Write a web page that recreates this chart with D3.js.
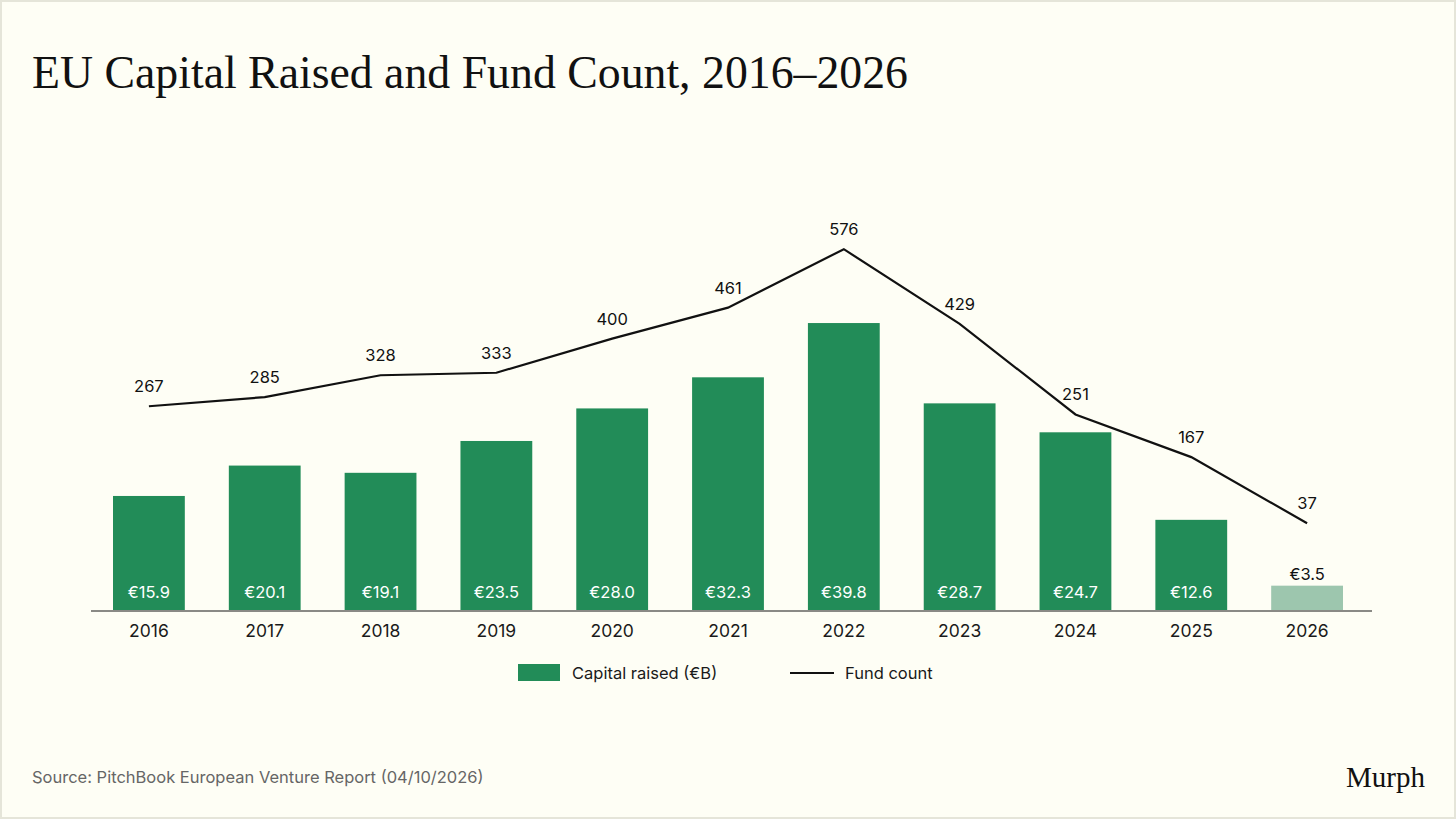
<!DOCTYPE html>
<html>
<head>
<meta charset="utf-8">
<script src="https://cdn.jsdelivr.net/npm/d3@7"></script>
<style>
  html, body { margin: 0; padding: 0; background: #fefef5; }
  svg { display: block; }
</style>
</head>
<body>
<div id="chart"></div>
<script>
const years = ["2016", "2017", "2018", "2019", "2020", "2021", "2022", "2023", "2024", "2025", "2026"];
const capitalRaised = [15.9, 20.1, 19.1, 23.5, 28.0, 32.3, 39.8, 28.7, 24.7, 12.6, 3.5];
const fundCount = [267, 285, 328, 333, 400, 461, 576, 429, 251, 167, 37];
const partialYear = "2026";

const W = 1456, H = 819;
const green = "#228c58", lightGreen = "#9dc6ae";

const svg = d3.select("#chart")
    .append("svg")
    .attr("width", W)
    .attr("height", H);

// background + thin border
svg.append("rect")
    .attr("x", 1).attr("y", 1)
    .attr("width", W - 2).attr("height", H - 2)
    .attr("fill", "#fefef5")
    .attr("stroke", "#e5e5d9")
    .attr("stroke-width", 2);

// title
svg.append("text")
    .attr("x", 32)
    .attr("y", 88)
    .style("font-family", "'Liberation Serif', 'DejaVu Serif', serif")
    .style("font-size", "47px")
    .attr("fill", "#111")
    .attr("textLength", 876)
    .attr("lengthAdjust", "spacingAndGlyphs")
    .text("EU Capital Raised and Fund Count, 2016–2026");

const baseline = 611;
const xScale = d3.scaleBand()
    .domain(years)
    .range([91, 1365])
    .paddingInner(0.38)
    .paddingOuter(0.19);

const yBar = d3.scaleLinear().domain([0, 40]).range([baseline, 321.6]);
const yLine = d3.scaleLinear().domain([0, 600]).range([542, 237]);
const cx = d => xScale(d) + xScale.bandwidth() / 2;

// bars
svg.selectAll(".bar")
    .data(years)
    .enter()
    .append("rect")
    .attr("class", "bar")
    .attr("x", d => xScale(d))
    .attr("y", (d, i) => yBar(capitalRaised[i]))
    .attr("width", xScale.bandwidth())
    .attr("height", (d, i) => baseline - yBar(capitalRaised[i]))
    .attr("fill", d => d === partialYear ? lightGreen : green);

// bar labels
svg.selectAll(".bar-label")
    .data(years)
    .enter()
    .append("text")
    .attr("class", "bar-label")
    .attr("x", d => cx(d))
    .attr("y", (d, i) => d === partialYear ? yBar(capitalRaised[i]) - 6 : baseline - 13)
    .attr("text-anchor", "middle")
    .style("font-family", "Inter, sans-serif")
    .style("font-size", "16.5px")
    .attr("fill", d => d === partialYear ? "#111" : "#fff")
    .text((d, i) => "€" + capitalRaised[i].toFixed(1));

// x axis
const xAxis = d3.axisBottom(xScale).tickSize(0).tickPadding(14);
const gx = svg.append("g")
    .attr("transform", `translate(0, ${baseline})`)
    .call(xAxis);
gx.select(".domain").remove();
gx.append("line")
    .attr("x1", 91).attr("x2", 1372)
    .attr("stroke", "#8a8a85").attr("stroke-width", 2);
gx.selectAll("text")
    .style("font-family", "Inter, sans-serif")
    .style("font-size", "17.5px")
    .attr("fill", "#1a1a1a");

// fund count line
const line = d3.line()
    .x((d, i) => cx(years[i]))
    .y(d => yLine(d));

svg.append("path")
    .datum(fundCount)
    .attr("d", line)
    .attr("fill", "none")
    .attr("stroke", "#111")
    .attr("stroke-width", 2.2);

svg.selectAll(".line-label")
    .data(fundCount)
    .enter()
    .append("text")
    .attr("class", "line-label")
    .attr("x", (d, i) => cx(years[i]))
    .attr("y", d => yLine(d) - 14)
    .attr("text-anchor", "middle")
    .style("font-family", "Inter, sans-serif")
    .style("font-size", "16.5px")
    .attr("fill", "#111")
    .text(d => d);

// legend
const legend = svg.append("g")
    .style("font-family", "Inter, sans-serif")
    .style("font-size", "16.5px");
legend.append("rect")
    .attr("x", 518).attr("y", 664)
    .attr("width", 42).attr("height", 17)
    .attr("fill", green);
legend.append("text")
    .attr("x", 572).attr("y", 679)
    .attr("fill", "#1a1a1a")
    .text("Capital raised (€B)");
legend.append("line")
    .attr("x1", 790).attr("x2", 834)
    .attr("y1", 673).attr("y2", 673)
    .attr("stroke", "#111")
    .attr("stroke-width", 2.2);
legend.append("text")
    .attr("x", 845).attr("y", 679)
    .attr("fill", "#1a1a1a")
    .text("Fund count");

// source + logo
svg.append("text")
    .attr("x", 32).attr("y", 783)
    .style("font-family", "Inter, sans-serif")
    .style("font-size", "16.5px")
    .attr("fill", "#666")
    .text("Source: PitchBook European Venture Report (04/10/2026)");

svg.append("text")
    .attr("x", 1425).attr("y", 787)
    .attr("text-anchor", "end")
    .style("font-family", "'Liberation Serif', serif")
    .style("font-size", "29px")
    .attr("fill", "#111")
    .text("Murph");
</script>
</body>
</html>
